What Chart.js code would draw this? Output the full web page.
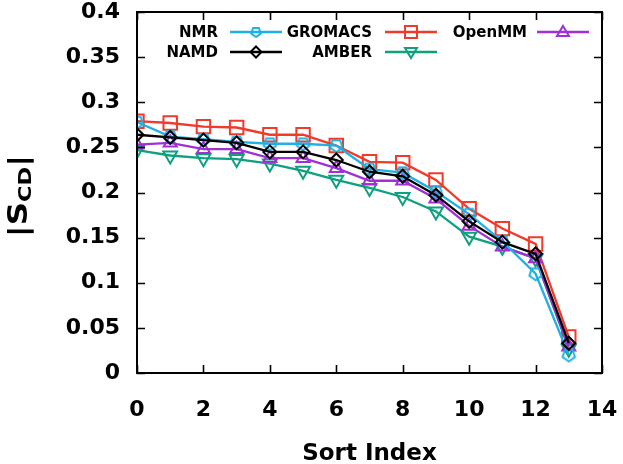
<!DOCTYPE html>
<html>
<head>
<meta charset="utf-8">
<script src="https://cdn.jsdelivr.net/npm/chart.js@4"></script>
<style>
  html, body { margin: 0; padding: 0; background: #fff; }
  #wrap { width: 623px; height: 464px; }
</style>
</head>
<body>
<div id="wrap"><canvas id="chart" width="623" height="464"></canvas></div>
<script>
/* ===============================
   DATA
================================ */
const sortIndex = [0, 1, 2, 3, 4, 5, 6, 7, 8, 9, 10, 11, 12, 13];
const nmr     = [0.278, 0.262, 0.259, 0.256, 0.254, 0.254, 0.252, 0.226, 0.222, 0.201, 0.176, 0.146, 0.110, 0.020];
const gromacs = [0.279, 0.277, 0.273, 0.272, 0.264, 0.264, 0.252, 0.234, 0.233, 0.214, 0.182, 0.160, 0.143, 0.040];
const namd    = [0.264, 0.261, 0.258, 0.255, 0.245, 0.245, 0.236, 0.223, 0.218, 0.197, 0.168, 0.145, 0.132, 0.033];
const amber   = [0.247, 0.241, 0.238, 0.237, 0.232, 0.224, 0.214, 0.205, 0.195, 0.179, 0.151, 0.140, 0.127, 0.027];
const openmm  = [0.253, 0.255, 0.248, 0.248, 0.238, 0.238, 0.227, 0.213, 0.213, 0.193, 0.163, 0.140, 0.127, 0.029];

const FONT = "'DejaVu Sans', 'Liberation Sans', Arial, sans-serif";
const C_NMR = '#1fb0e4';
const C_GRO = '#f03a2a';
const C_NAMD = '#000000';
const C_AMBER = '#0fa07e';
const C_OPENMM = '#a030d6';

// pentagon marker (flat top, point down)
function pentagon(size, color, lw) {
  const c = document.createElement('canvas');
  c.width = size; c.height = size;
  const g = c.getContext('2d');
  const r = size / 2 - lw;
  g.beginPath();
  for (let i = 0; i < 5; i++) {
    const a = Math.PI / 2 + i * 2 * Math.PI / 5;
    const px = size / 2 + r * Math.cos(a);
    const py = size / 2 + r * Math.sin(a);
    if (i === 0) g.moveTo(px, py); else g.lineTo(px, py);
  }
  g.closePath();
  g.strokeStyle = color;
  g.lineWidth = lw;
  g.stroke();
  return c;
}

const pentBig = pentagon(17, C_NMR, 2);
const pentSmall = pentagon(14, C_NMR, 2);

function pts(arr) {
  return sortIndex.map((x, i) => ({ x: x, y: arr[i] }));
}

function ds(label, arr, color, style, radius, rot) {
  return {
    label: label,
    data: pts(arr),
    borderColor: color,
    borderWidth: 2.3,
    pointStyle: style,
    pointRadius: radius,
    pointHoverRadius: radius,
    pointRotation: rot || 0,
    pointBorderColor: color,
    pointBorderWidth: 2,
    pointBackgroundColor: 'rgba(0,0,0,0)',
    tension: 0
  };
}

// drawn last = on top, so NAMD first
const datasets = [
  ds('NAMD', namd, C_NAMD, 'rectRot', 6.5),
  ds('NMR', nmr, C_NMR, pentBig, 8),
  ds('OpenMM', openmm, C_OPENMM, 'triangle', 7.5),
  ds('AMBER', amber, C_AMBER, 'triangle', 8, 180),
  ds('GROMACS', gromacs, C_GRO, 'rect', 9.5)
];

/* ===============================
   FRAME, INNER TICKS, TITLE, LEGEND
================================ */
const decor = {
  id: 'decor',
  afterDraw(chart) {
    const ctx = chart.ctx;
    const a = chart.chartArea;
    const xs = chart.scales.x;
    const ys = chart.scales.y;
    ctx.save();
    ctx.strokeStyle = '#000';
    ctx.lineWidth = 1.6;
    const tl = 8;
    ys.ticks.forEach(t => {
      const py = Math.round(ys.getPixelForValue(t.value)) + 0.5;
      ctx.beginPath();
      ctx.moveTo(a.left, py); ctx.lineTo(a.left + tl, py);
      ctx.moveTo(a.right, py); ctx.lineTo(a.right - tl, py);
      ctx.stroke();
    });
    xs.ticks.forEach(t => {
      const px = Math.round(xs.getPixelForValue(t.value)) + 0.5;
      ctx.beginPath();
      ctx.moveTo(px, a.bottom); ctx.lineTo(px, a.bottom - tl);
      ctx.moveTo(px, a.top); ctx.lineTo(px, a.top + tl);
      ctx.stroke();
    });
    ctx.lineWidth = 2;
    ctx.strokeRect(a.left, a.top, a.right - a.left, a.bottom - a.top);

    // y title |S_CD|
    ctx.translate(18, 196);
    ctx.rotate(-Math.PI / 2);
    ctx.scale(1.25, 1);
    ctx.fillStyle = '#000';
    ctx.textBaseline = 'alphabetic';
    const big = 'bold 26px ' + FONT;
    const small = 'bold 18px ' + FONT;
    ctx.font = big;
    const w1 = ctx.measureText('|S').width;
    const w3 = ctx.measureText('|').width;
    ctx.font = small;
    const w2 = ctx.measureText('CD').width;
    let x0 = -(w1 + w2 + w3) / 2;
    const base = 9;
    ctx.font = big;
    ctx.fillText('|S', x0, base);
    ctx.font = small;
    ctx.fillText('CD', x0 + w1, base + 4);
    ctx.font = big;
    ctx.fillText('|', x0 + w1 + w2, base);
    ctx.restore();

    // legend
    const items = [
      { label: 'NMR', color: C_NMR, tx: 218, y: 32, lx: 230, style: 'pent' },
      { label: 'GROMACS', color: C_GRO, tx: 372, y: 32, lx: 385, style: 'rect' },
      { label: 'OpenMM', color: C_OPENMM, tx: 527, y: 32, lx: 537, style: 'tri' },
      { label: 'NAMD', color: C_NAMD, tx: 218, y: 52, lx: 230, style: 'diamond' },
      { label: 'AMBER', color: C_AMBER, tx: 372, y: 52, lx: 385, style: 'tridown' }
    ];
    ctx.save();
    ctx.font = 'bold 15px ' + FONT;
    ctx.textAlign = 'right';
    ctx.textBaseline = 'middle';
    items.forEach(it => {
      ctx.fillStyle = '#000';
      ctx.fillText(it.label, it.tx, it.y + 1);
      ctx.strokeStyle = it.color;
      ctx.lineWidth = 2.3;
      ctx.beginPath();
      ctx.moveTo(it.lx, it.y); ctx.lineTo(it.lx + 52, it.y);
      ctx.stroke();
      const cx = it.lx + 26;
      ctx.lineWidth = 2;
      ctx.beginPath();
      if (it.style === 'rect') {
        ctx.rect(cx - 6, it.y - 6, 12, 12);
      } else if (it.style === 'diamond') {
        ctx.moveTo(cx - 5.5, it.y); ctx.lineTo(cx, it.y - 5.5);
        ctx.lineTo(cx + 5.5, it.y); ctx.lineTo(cx, it.y + 5.5); ctx.closePath();
      } else if (it.style === 'tri') {
        ctx.moveTo(cx, it.y - 6); ctx.lineTo(cx + 6, it.y + 4); ctx.lineTo(cx - 6, it.y + 4); ctx.closePath();
      } else if (it.style === 'tridown') {
        ctx.moveTo(cx, it.y + 6); ctx.lineTo(cx + 6, it.y - 4); ctx.lineTo(cx - 6, it.y - 4); ctx.closePath();
      }
      ctx.stroke();
      if (it.style === 'pent') {
        ctx.drawImage(pentSmall, cx - 7, it.y - 7);
      }
    });
    ctx.restore();
  }
};

new Chart(document.getElementById('chart'), {
  type: 'line',
  data: { datasets: datasets },
  options: {
    responsive: false,
    animation: false,
    events: [],
    layout: { autoPadding: false, padding: { top: 12, right: 21, left: 0, bottom: 0 } },
    plugins: {
      legend: { display: false },
      tooltip: { enabled: false }
    },
    scales: {
      x: {
        type: 'linear',
        min: 0,
        max: 14,
        afterFit: s => {
          s.height = 91;
          s.paddingLeft = 0; s.paddingRight = 0; s.paddingTop = 0; s.paddingBottom = 0;
        },
        grid: { display: false, drawTicks: false },
        border: { display: false },
        ticks: {
          stepSize: 2,
          padding: 24,
          color: '#000',
          font: { family: FONT, size: 22, weight: 'bold' }
        },
        title: {
          display: true,
          text: 'Sort Index',
          color: '#000',
          padding: { top: 0, bottom: -2 },
          font: { family: FONT, size: 23, weight: 'bold', lineHeight: 1 }
        }
      },
      y: {
        min: 0,
        max: 0.4,
        afterFit: s => {
          s.width = 137;
          s.paddingLeft = 0; s.paddingRight = 0; s.paddingTop = 0; s.paddingBottom = 0;
        },
        grid: { display: false, drawTicks: false },
        border: { display: false },
        ticks: {
          stepSize: 0.05,
          padding: 17,
          color: '#000',
          font: { family: FONT, size: 22, weight: 'bold' },
          callback: v => String(Math.round(v * 100) / 100)
        }
      }
    }
  },
  plugins: [decor]
});
</script>
</body>
</html>
